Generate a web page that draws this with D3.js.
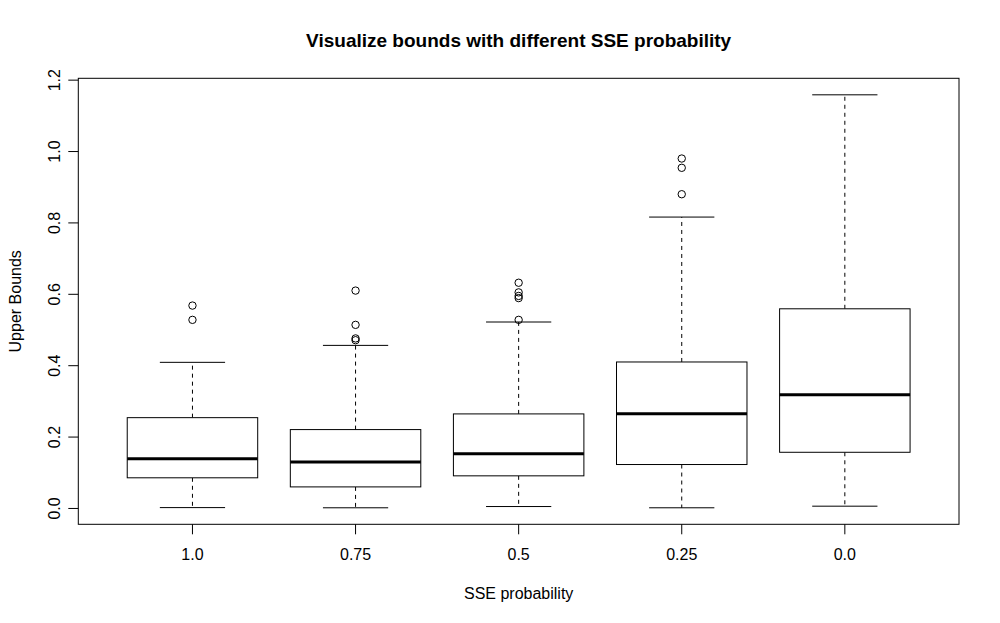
<!DOCTYPE html>
<html>
<head>
<meta charset="utf-8">
<script src="https://cdn.jsdelivr.net/npm/d3@7"></script>
<style>
  body { margin: 0; background: #fff; }
  text { font-family: "Liberation Sans", Arial, sans-serif; fill: #000; }
</style>
</head>
<body>
<div id="chart"></div>
<script>
// categories (SSE probability)
const categories = ["1.0", "0.75", "0.5", "0.25", "0.0"];
// box stats
const lowerWhisker = [0.001, 0.0005, 0.004, 0.0005, 0.005];
const q1 = [0.0845, 0.059, 0.090, 0.1217, 0.156];
const medians = [0.138, 0.129, 0.1516, 0.264, 0.3175];
const q3 = [0.253, 0.2196, 0.2635, 0.409, 0.558];
const upperWhisker = [0.408, 0.4555, 0.521, 0.815, 1.1575];
const outliers = [
  [0.567, 0.527],
  [0.609, 0.513, 0.475, 0.470],
  [0.631, 0.604, 0.594, 0.588, 0.527],
  [0.979, 0.953, 0.879],
  []
];
const yTicks = [0, 0.2, 0.4, 0.6, 0.8, 1.0, 1.2];

const W = 1000, H = 623;
const margin = { top: 78.3, right: 41, bottom: 98.7, left: 78.3 };
const plotW = W - margin.left - margin.right;
const plotH = H - margin.top - margin.bottom;

const svg = d3.select("#chart").append("svg")
  .attr("width", W).attr("height", H);

const g = svg.append("g")
  .attr("transform", "translate(" + margin.left + "," + margin.top + ")");

// x scale like R boxplot: range 0.5..n+0.5 expanded 4%
const x = d3.scaleBand()
  .domain(categories)
  .range([0, plotW])
  .paddingInner(0.2)
  .paddingOuter(0.3);

// y scale: data range expanded 4% (R style)
const yMin = d3.min(lowerWhisker), yMax = d3.max(upperWhisker.concat(outliers.flat()));
const pad = (yMax - yMin) * 0.04;
const y = d3.scaleLinear()
  .domain([yMin - pad, yMax + pad])
  .range([plotH, 0]);

const boxes = categories.map((c, i) => ({
  cat: c, lo: lowerWhisker[i], q1: q1[i], med: medians[i],
  q3: q3[i], hi: upperWhisker[i], out: outliers[i]
}));

const bw = x.bandwidth();
const b = g.selectAll(".box").data(boxes).enter().append("g")
  .attr("class", "box")
  .attr("transform", d => "translate(" + x(d.cat) + ",0)");

// whiskers (dashed)
b.append("line")
  .attr("x1", bw / 2).attr("x2", bw / 2)
  .attr("y1", d => y(d.q3)).attr("y2", d => y(d.hi))
  .attr("stroke", "#000").attr("stroke-dasharray", "4,4");
b.append("line")
  .attr("x1", bw / 2).attr("x2", bw / 2)
  .attr("y1", d => y(d.q1)).attr("y2", d => y(d.lo))
  .attr("stroke", "#000").attr("stroke-dasharray", "4,4");

// caps
["hi", "lo"].forEach(k => {
  b.append("line")
    .attr("x1", bw / 4).attr("x2", bw * 3 / 4)
    .attr("y1", d => y(d[k])).attr("y2", d => y(d[k]))
    .attr("stroke", "#000");
});

// box
b.append("rect")
  .attr("x", 0).attr("width", bw)
  .attr("y", d => y(d.q3))
  .attr("height", d => y(d.q1) - y(d.q3))
  .attr("fill", "#fff").attr("stroke", "#000");

// median
b.append("line")
  .attr("x1", 0).attr("x2", bw)
  .attr("y1", d => y(d.med)).attr("y2", d => y(d.med))
  .attr("stroke", "#000").attr("stroke-width", 3);

// outliers
b.selectAll("circle").data(d => d.out).enter().append("circle")
  .attr("cx", bw / 2).attr("cy", d => y(d)).attr("r", 3.7)
  .attr("fill", "none").attr("stroke", "#000");

// plot frame
g.append("rect")
  .attr("width", plotW).attr("height", plotH)
  .attr("fill", "none").attr("stroke", "#000");

// axes
const xAxis = g.append("g")
  .attr("transform", "translate(0," + plotH + ")")
  .call(d3.axisBottom(x).tickSize(10).tickPadding(14));
xAxis.select(".domain").remove();
xAxis.selectAll("text").attr("font-size", 16);

const yAxis = g.append("g")
  .call(d3.axisLeft(y).tickValues(yTicks).tickSize(10)
    .tickFormat(d3.format(".1f")));
yAxis.select(".domain").remove();
yAxis.selectAll("text")
  .attr("font-size", 16)
  .attr("text-anchor", "middle")
  .attr("x", 0).attr("dy", 0)
  .attr("transform", "translate(-18,0) rotate(-90)");

// titles
svg.append("text")
  .attr("x", margin.left + plotW / 2).attr("y", 47)
  .attr("text-anchor", "middle")
  .attr("font-size", 19).attr("font-weight", "bold")
  .text("Visualize bounds with different SSE probability");

svg.append("text")
  .attr("x", margin.left + plotW / 2).attr("y", 599)
  .attr("text-anchor", "middle")
  .attr("font-size", 16)
  .text("SSE probability");

svg.append("text")
  .attr("transform", "translate(21," + (margin.top + plotH / 2) + ") rotate(-90)")
  .attr("text-anchor", "middle")
  .attr("font-size", 16)
  .text("Upper Bounds");
</script>
</body>
</html>
